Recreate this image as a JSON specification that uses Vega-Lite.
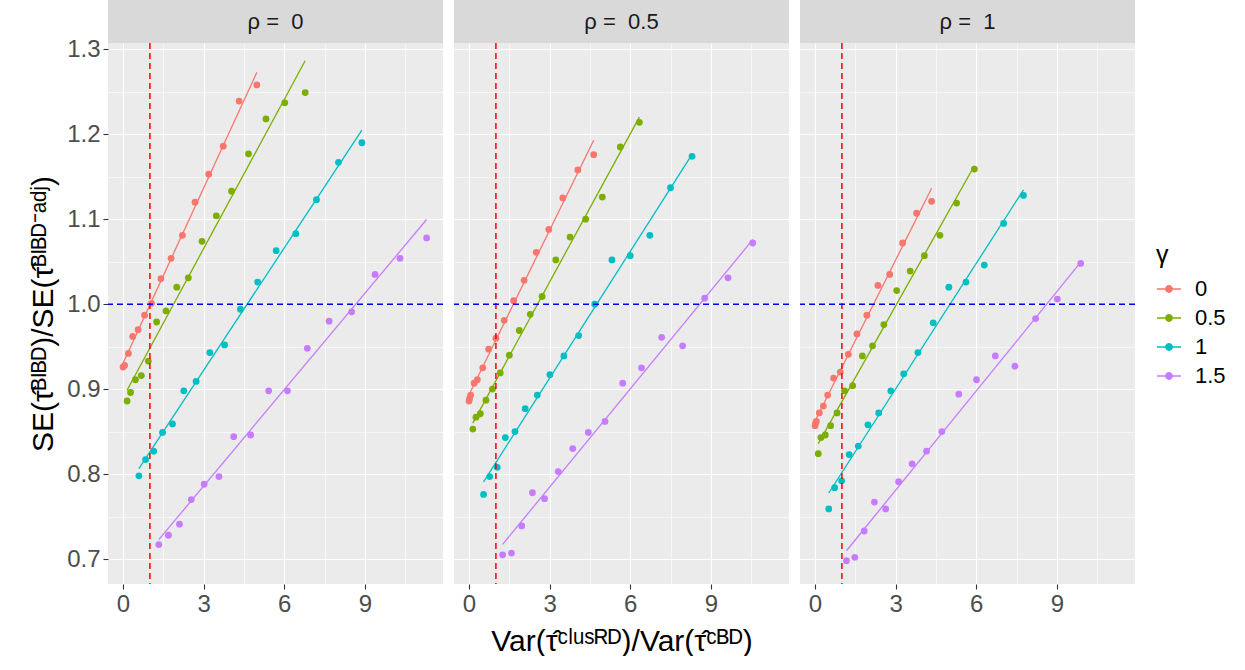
{
  "$schema": "https://vega.github.io/schema/vega-lite/v6.json",
  "padding": {"left": 28, "top": 0, "right": 0, "bottom": 0},
  "background": "white",
  "config": {
    "font": "Liberation Sans",
    "view": {"stroke": null},
    "axis": {
      "domain": false,
      "gridColor": "white",
      "tickColor": "#333333",
      "tickSize": 5,
      "tickWidth": 1.1,
      "labelColor": "#4D4D4D",
      "labelFont": "Liberation Sans",
      "labelFontSize": 24,
      "titleFont": "Liberation Sans",
      "titleFontSize": 30,
      "titleFontWeight": "normal",
      "titleColor": "black",
      "labelPadding": 3
    }
  },
  "datasets": {
    "d": [
      {"rho": 0, "gamma": "0", "ratio": 0.0, "se": 0.926},
      {"rho": 0, "gamma": "0", "ratio": 0.06, "se": 0.928},
      {"rho": 0, "gamma": "0", "ratio": 0.2, "se": 0.942},
      {"rho": 0, "gamma": "0", "ratio": 0.36, "se": 0.962},
      {"rho": 0, "gamma": "0", "ratio": 0.56, "se": 0.970},
      {"rho": 0, "gamma": "0", "ratio": 0.80, "se": 0.987},
      {"rho": 0, "gamma": "0", "ratio": 1.06, "se": 1.001},
      {"rho": 0, "gamma": "0", "ratio": 1.41, "se": 1.030},
      {"rho": 0, "gamma": "0", "ratio": 1.79, "se": 1.054},
      {"rho": 0, "gamma": "0", "ratio": 2.21, "se": 1.081},
      {"rho": 0, "gamma": "0", "ratio": 2.68, "se": 1.120},
      {"rho": 0, "gamma": "0", "ratio": 3.19, "se": 1.153},
      {"rho": 0, "gamma": "0", "ratio": 3.73, "se": 1.186},
      {"rho": 0, "gamma": "0", "ratio": 4.32, "se": 1.239},
      {"rho": 0, "gamma": "0", "ratio": 4.98, "se": 1.258},
      {"rho": 0, "gamma": "0.5", "ratio": 0.15, "se": 0.886},
      {"rho": 0, "gamma": "0.5", "ratio": 0.28, "se": 0.896},
      {"rho": 0, "gamma": "0.5", "ratio": 0.46, "se": 0.911},
      {"rho": 0, "gamma": "0.5", "ratio": 0.68, "se": 0.916},
      {"rho": 0, "gamma": "0.5", "ratio": 0.94, "se": 0.933},
      {"rho": 0, "gamma": "0.5", "ratio": 1.25, "se": 0.979},
      {"rho": 0, "gamma": "0.5", "ratio": 1.60, "se": 0.992},
      {"rho": 0, "gamma": "0.5", "ratio": 2.00, "se": 1.020},
      {"rho": 0, "gamma": "0.5", "ratio": 2.43, "se": 1.031},
      {"rho": 0, "gamma": "0.5", "ratio": 2.94, "se": 1.074},
      {"rho": 0, "gamma": "0.5", "ratio": 3.47, "se": 1.104},
      {"rho": 0, "gamma": "0.5", "ratio": 4.04, "se": 1.133},
      {"rho": 0, "gamma": "0.5", "ratio": 4.67, "se": 1.177},
      {"rho": 0, "gamma": "0.5", "ratio": 5.32, "se": 1.218},
      {"rho": 0, "gamma": "0.5", "ratio": 6.02, "se": 1.237},
      {"rho": 0, "gamma": "0.5", "ratio": 6.78, "se": 1.249},
      {"rho": 0, "gamma": "1", "ratio": 0.59, "se": 0.798},
      {"rho": 0, "gamma": "1", "ratio": 0.84, "se": 0.817},
      {"rho": 0, "gamma": "1", "ratio": 1.14, "se": 0.827},
      {"rho": 0, "gamma": "1", "ratio": 1.47, "se": 0.849},
      {"rho": 0, "gamma": "1", "ratio": 1.84, "se": 0.859},
      {"rho": 0, "gamma": "1", "ratio": 2.26, "se": 0.898},
      {"rho": 0, "gamma": "1", "ratio": 2.72, "se": 0.909},
      {"rho": 0, "gamma": "1", "ratio": 3.23, "se": 0.943},
      {"rho": 0, "gamma": "1", "ratio": 3.78, "se": 0.952},
      {"rho": 0, "gamma": "1", "ratio": 4.37, "se": 0.994},
      {"rho": 0, "gamma": "1", "ratio": 5.01, "se": 1.026},
      {"rho": 0, "gamma": "1", "ratio": 5.70, "se": 1.063},
      {"rho": 0, "gamma": "1", "ratio": 6.43, "se": 1.083},
      {"rho": 0, "gamma": "1", "ratio": 7.20, "se": 1.123},
      {"rho": 0, "gamma": "1", "ratio": 8.02, "se": 1.167},
      {"rho": 0, "gamma": "1", "ratio": 8.89, "se": 1.190},
      {"rho": 0, "gamma": "1.5", "ratio": 1.33, "se": 0.717},
      {"rho": 0, "gamma": "1.5", "ratio": 1.69, "se": 0.728},
      {"rho": 0, "gamma": "1.5", "ratio": 2.10, "se": 0.741},
      {"rho": 0, "gamma": "1.5", "ratio": 2.54, "se": 0.770},
      {"rho": 0, "gamma": "1.5", "ratio": 3.02, "se": 0.788},
      {"rho": 0, "gamma": "1.5", "ratio": 3.57, "se": 0.797},
      {"rho": 0, "gamma": "1.5", "ratio": 4.12, "se": 0.844},
      {"rho": 0, "gamma": "1.5", "ratio": 4.75, "se": 0.846},
      {"rho": 0, "gamma": "1.5", "ratio": 5.42, "se": 0.898},
      {"rho": 0, "gamma": "1.5", "ratio": 6.12, "se": 0.898},
      {"rho": 0, "gamma": "1.5", "ratio": 6.86, "se": 0.948},
      {"rho": 0, "gamma": "1.5", "ratio": 7.67, "se": 0.980},
      {"rho": 0, "gamma": "1.5", "ratio": 8.51, "se": 0.991},
      {"rho": 0, "gamma": "1.5", "ratio": 9.38, "se": 1.035},
      {"rho": 0, "gamma": "1.5", "ratio": 10.31, "se": 1.054},
      {"rho": 0, "gamma": "1.5", "ratio": 11.30, "se": 1.078},

      {"rho": 0.5, "gamma": "0", "ratio": 0.0, "se": 0.886},
      {"rho": 0.5, "gamma": "0", "ratio": 0.02, "se": 0.889},
      {"rho": 0.5, "gamma": "0", "ratio": 0.06, "se": 0.893},
      {"rho": 0.5, "gamma": "0", "ratio": 0.19, "se": 0.907},
      {"rho": 0.5, "gamma": "0", "ratio": 0.31, "se": 0.911},
      {"rho": 0.5, "gamma": "0", "ratio": 0.51, "se": 0.925},
      {"rho": 0.5, "gamma": "0", "ratio": 0.73, "se": 0.947},
      {"rho": 0.5, "gamma": "0", "ratio": 1.00, "se": 0.960},
      {"rho": 0.5, "gamma": "0", "ratio": 1.31, "se": 0.981},
      {"rho": 0.5, "gamma": "0", "ratio": 1.66, "se": 1.004},
      {"rho": 0.5, "gamma": "0", "ratio": 2.05, "se": 1.028},
      {"rho": 0.5, "gamma": "0", "ratio": 2.50, "se": 1.061},
      {"rho": 0.5, "gamma": "0", "ratio": 2.97, "se": 1.088},
      {"rho": 0.5, "gamma": "0", "ratio": 3.49, "se": 1.125},
      {"rho": 0.5, "gamma": "0", "ratio": 4.05, "se": 1.158},
      {"rho": 0.5, "gamma": "0", "ratio": 4.64, "se": 1.176},
      {"rho": 0.5, "gamma": "0.5", "ratio": 0.14, "se": 0.853},
      {"rho": 0.5, "gamma": "0.5", "ratio": 0.26, "se": 0.867},
      {"rho": 0.5, "gamma": "0.5", "ratio": 0.42, "se": 0.871},
      {"rho": 0.5, "gamma": "0.5", "ratio": 0.63, "se": 0.887},
      {"rho": 0.5, "gamma": "0.5", "ratio": 0.87, "se": 0.900},
      {"rho": 0.5, "gamma": "0.5", "ratio": 1.16, "se": 0.919},
      {"rho": 0.5, "gamma": "0.5", "ratio": 1.50, "se": 0.940},
      {"rho": 0.5, "gamma": "0.5", "ratio": 1.87, "se": 0.969},
      {"rho": 0.5, "gamma": "0.5", "ratio": 2.28, "se": 0.988},
      {"rho": 0.5, "gamma": "0.5", "ratio": 2.72, "se": 1.009},
      {"rho": 0.5, "gamma": "0.5", "ratio": 3.23, "se": 1.052},
      {"rho": 0.5, "gamma": "0.5", "ratio": 3.76, "se": 1.079},
      {"rho": 0.5, "gamma": "0.5", "ratio": 4.34, "se": 1.100},
      {"rho": 0.5, "gamma": "0.5", "ratio": 4.96, "se": 1.126},
      {"rho": 0.5, "gamma": "0.5", "ratio": 5.63, "se": 1.185},
      {"rho": 0.5, "gamma": "0.5", "ratio": 6.34, "se": 1.214},
      {"rho": 0.5, "gamma": "1", "ratio": 0.54, "se": 0.776},
      {"rho": 0.5, "gamma": "1", "ratio": 0.77, "se": 0.797},
      {"rho": 0.5, "gamma": "1", "ratio": 1.05, "se": 0.808},
      {"rho": 0.5, "gamma": "1", "ratio": 1.35, "se": 0.843},
      {"rho": 0.5, "gamma": "1", "ratio": 1.71, "se": 0.850},
      {"rho": 0.5, "gamma": "1", "ratio": 2.09, "se": 0.877},
      {"rho": 0.5, "gamma": "1", "ratio": 2.54, "se": 0.893},
      {"rho": 0.5, "gamma": "1", "ratio": 3.01, "se": 0.917},
      {"rho": 0.5, "gamma": "1", "ratio": 3.53, "se": 0.939},
      {"rho": 0.5, "gamma": "1", "ratio": 4.08, "se": 0.963},
      {"rho": 0.5, "gamma": "1", "ratio": 4.68, "se": 1.000},
      {"rho": 0.5, "gamma": "1", "ratio": 5.32, "se": 1.052},
      {"rho": 0.5, "gamma": "1", "ratio": 6.00, "se": 1.057},
      {"rho": 0.5, "gamma": "1", "ratio": 6.73, "se": 1.081},
      {"rho": 0.5, "gamma": "1", "ratio": 7.50, "se": 1.137},
      {"rho": 0.5, "gamma": "1", "ratio": 8.30, "se": 1.174},
      {"rho": 0.5, "gamma": "1.5", "ratio": 1.25, "se": 0.705},
      {"rho": 0.5, "gamma": "1.5", "ratio": 1.58, "se": 0.707},
      {"rho": 0.5, "gamma": "1.5", "ratio": 1.96, "se": 0.739},
      {"rho": 0.5, "gamma": "1.5", "ratio": 2.36, "se": 0.778},
      {"rho": 0.5, "gamma": "1.5", "ratio": 2.81, "se": 0.771},
      {"rho": 0.5, "gamma": "1.5", "ratio": 3.32, "se": 0.803},
      {"rho": 0.5, "gamma": "1.5", "ratio": 3.86, "se": 0.830},
      {"rho": 0.5, "gamma": "1.5", "ratio": 4.44, "se": 0.849},
      {"rho": 0.5, "gamma": "1.5", "ratio": 5.06, "se": 0.862},
      {"rho": 0.5, "gamma": "1.5", "ratio": 5.72, "se": 0.907},
      {"rho": 0.5, "gamma": "1.5", "ratio": 6.42, "se": 0.925},
      {"rho": 0.5, "gamma": "1.5", "ratio": 7.17, "se": 0.961},
      {"rho": 0.5, "gamma": "1.5", "ratio": 7.95, "se": 0.951},
      {"rho": 0.5, "gamma": "1.5", "ratio": 8.77, "se": 1.007},
      {"rho": 0.5, "gamma": "1.5", "ratio": 9.64, "se": 1.031},
      {"rho": 0.5, "gamma": "1.5", "ratio": 10.56, "se": 1.072},

      {"rho": 1, "gamma": "0", "ratio": 0.0, "se": 0.857},
      {"rho": 1, "gamma": "0", "ratio": 0.02, "se": 0.860},
      {"rho": 1, "gamma": "0", "ratio": 0.05, "se": 0.862},
      {"rho": 1, "gamma": "0", "ratio": 0.16, "se": 0.872},
      {"rho": 1, "gamma": "0", "ratio": 0.31, "se": 0.880},
      {"rho": 1, "gamma": "0", "ratio": 0.47, "se": 0.893},
      {"rho": 1, "gamma": "0", "ratio": 0.69, "se": 0.913},
      {"rho": 1, "gamma": "0", "ratio": 0.94, "se": 0.920},
      {"rho": 1, "gamma": "0", "ratio": 1.24, "se": 0.941},
      {"rho": 1, "gamma": "0", "ratio": 1.56, "se": 0.965},
      {"rho": 1, "gamma": "0", "ratio": 1.93, "se": 0.987},
      {"rho": 1, "gamma": "0", "ratio": 2.34, "se": 1.022},
      {"rho": 1, "gamma": "0", "ratio": 2.78, "se": 1.035},
      {"rho": 1, "gamma": "0", "ratio": 3.26, "se": 1.072},
      {"rho": 1, "gamma": "0", "ratio": 3.78, "se": 1.107},
      {"rho": 1, "gamma": "0", "ratio": 4.34, "se": 1.121},
      {"rho": 1, "gamma": "0.5", "ratio": 0.12, "se": 0.824},
      {"rho": 1, "gamma": "0.5", "ratio": 0.22, "se": 0.843},
      {"rho": 1, "gamma": "0.5", "ratio": 0.38, "se": 0.846},
      {"rho": 1, "gamma": "0.5", "ratio": 0.58, "se": 0.857},
      {"rho": 1, "gamma": "0.5", "ratio": 0.82, "se": 0.872},
      {"rho": 1, "gamma": "0.5", "ratio": 1.10, "se": 0.898},
      {"rho": 1, "gamma": "0.5", "ratio": 1.40, "se": 0.904},
      {"rho": 1, "gamma": "0.5", "ratio": 1.76, "se": 0.939},
      {"rho": 1, "gamma": "0.5", "ratio": 2.14, "se": 0.951},
      {"rho": 1, "gamma": "0.5", "ratio": 2.56, "se": 0.976},
      {"rho": 1, "gamma": "0.5", "ratio": 3.04, "se": 1.016},
      {"rho": 1, "gamma": "0.5", "ratio": 3.54, "se": 1.039},
      {"rho": 1, "gamma": "0.5", "ratio": 4.07, "se": 1.057},
      {"rho": 1, "gamma": "0.5", "ratio": 4.65, "se": 1.081},
      {"rho": 1, "gamma": "0.5", "ratio": 5.27, "se": 1.119},
      {"rho": 1, "gamma": "0.5", "ratio": 5.93, "se": 1.159},
      {"rho": 1, "gamma": "1", "ratio": 0.51, "se": 0.759},
      {"rho": 1, "gamma": "1", "ratio": 0.73, "se": 0.784},
      {"rho": 1, "gamma": "1", "ratio": 0.99, "se": 0.792},
      {"rho": 1, "gamma": "1", "ratio": 1.27, "se": 0.823},
      {"rho": 1, "gamma": "1", "ratio": 1.61, "se": 0.833},
      {"rho": 1, "gamma": "1", "ratio": 1.97, "se": 0.858},
      {"rho": 1, "gamma": "1", "ratio": 2.37, "se": 0.872},
      {"rho": 1, "gamma": "1", "ratio": 2.82, "se": 0.898},
      {"rho": 1, "gamma": "1", "ratio": 3.30, "se": 0.918},
      {"rho": 1, "gamma": "1", "ratio": 3.83, "se": 0.943},
      {"rho": 1, "gamma": "1", "ratio": 4.40, "se": 0.978},
      {"rho": 1, "gamma": "1", "ratio": 4.98, "se": 1.020},
      {"rho": 1, "gamma": "1", "ratio": 5.62, "se": 1.026},
      {"rho": 1, "gamma": "1", "ratio": 6.30, "se": 1.046},
      {"rho": 1, "gamma": "1", "ratio": 7.02, "se": 1.095},
      {"rho": 1, "gamma": "1", "ratio": 7.76, "se": 1.128},
      {"rho": 1, "gamma": "1.5", "ratio": 1.17, "se": 0.698},
      {"rho": 1, "gamma": "1.5", "ratio": 1.48, "se": 0.702},
      {"rho": 1, "gamma": "1.5", "ratio": 1.83, "se": 0.733},
      {"rho": 1, "gamma": "1.5", "ratio": 2.21, "se": 0.767},
      {"rho": 1, "gamma": "1.5", "ratio": 2.63, "se": 0.759},
      {"rho": 1, "gamma": "1.5", "ratio": 3.11, "se": 0.791},
      {"rho": 1, "gamma": "1.5", "ratio": 3.61, "se": 0.812},
      {"rho": 1, "gamma": "1.5", "ratio": 4.15, "se": 0.827},
      {"rho": 1, "gamma": "1.5", "ratio": 4.72, "se": 0.850},
      {"rho": 1, "gamma": "1.5", "ratio": 5.35, "se": 0.894},
      {"rho": 1, "gamma": "1.5", "ratio": 6.01, "se": 0.911},
      {"rho": 1, "gamma": "1.5", "ratio": 6.71, "se": 0.939},
      {"rho": 1, "gamma": "1.5", "ratio": 7.44, "se": 0.927},
      {"rho": 1, "gamma": "1.5", "ratio": 8.21, "se": 0.983},
      {"rho": 1, "gamma": "1.5", "ratio": 9.02, "se": 1.006},
      {"rho": 1, "gamma": "1.5", "ratio": 9.89, "se": 1.048}
    ]
  },
  "resolve": {"scale": {"color": "shared"}, "legend": {"color": "shared"}},
  "spacing": 9,
  "hconcat": [
    {
      "spacing": 0,
      "bounds": "flush",
      "vconcat": [
        {
          "width": 335, "height": 43,
          "view": {"fill": "#D9D9D9", "stroke": null},
          "data": {"values": [{"t": "ρ = \u00a00"}]},
          "mark": {"type": "text", "fontSize": 22, "color": "#1A1A1A", "font": "Liberation Sans"},
          "encoding": {"text": {"field": "t"}}
        },
        {
          "width": 335, "height": 541,
          "view": {"fill": "#EBEBEB", "stroke": null},
          "data": {"name": "d"},
          "transform": [{"filter": "datum.rho == 0"}],
          "layer": [
            {
              "mark": {"type": "point", "filled": true, "size": 46, "opacity": 1},
              "encoding": {
                "x": {"field": "ratio", "type": "quantitative", "scale": {"domain": [-0.56, 11.91], "nice": false, "zero": false},
                  "axis": {"values": [0, 1.5, 3, 4.5, 6, 7.5, 9, 10.5], "grid": true,
                    "gridWidth": {"condition": {"test": "datum.value % 3 == 0", "value": 1.1}, "value": 0.55},
                    "tickOpacity": {"condition": {"test": "datum.value % 3 == 0", "value": 1}, "value": 0},
                    "labelExpr": "datum.value % 3 == 0 ? datum.label : ''", "title": null}},
                "y": {"field": "se", "type": "quantitative", "scale": {"domain": [0.6706, 1.3074], "nice": false, "zero": false},
                  "axis": {"values": [0.7, 0.75, 0.8, 0.85, 0.9, 0.95, 1.0, 1.05, 1.1, 1.15, 1.2, 1.25, 1.3], "grid": true, "format": ".1f",
                    "gridWidth": {"condition": {"test": "abs(datum.value*10 - round(datum.value*10)) < 0.001", "value": 1.1}, "value": 0.55},
                    "tickOpacity": {"condition": {"test": "abs(datum.value*10 - round(datum.value*10)) < 0.001", "value": 1}, "value": 0},
                    "labelExpr": "abs(datum.value*10 - round(datum.value*10)) < 0.001 ? datum.label : ''",
                    "title": "SE(τ̂ᴮᴵᴮᴰ)/SE(τ̂ᴮᴵᴮᴰ⁻ᵃᵈʲ)", "titlePadding": 8}},
                "color": {"field": "gamma", "type": "nominal",
                  "scale": {"domain": ["0", "0.5", "1", "1.5"], "range": ["#F8766D", "#7CAE00", "#00BFC4", "#C77CFF"]},
                  "legend": {"title": "γ", "orient": "none", "legendX": 1048, "legendY": 243,
                    "titleFontSize": 25, "titleFontWeight": "normal", "titleColor": "black", "titlePadding": 8,
                    "labelFontSize": 22, "labelColor": "black", "labelOffset": 13, "rowPadding": 5,
                    "symbolType": "M-1,0L1,0M-0.27,0A0.27,0.27,0,1,0,0.27,0A0.27,0.27,0,1,0,-0.27,0",
                    "symbolSize": 580, "symbolStrokeWidth": 1.3,
                    "encode": {"symbols": {"update": {
                      "stroke": {"scale": "color", "field": "value"},
                      "fill": {"scale": "color", "field": "value"}}}}}}
              }
            },
            {
              "transform": [{"regression": "se", "on": "ratio", "groupby": ["gamma"]}],
              "mark": {"type": "line", "strokeWidth": 1.3},
              "encoding": {
                "x": {"field": "ratio", "type": "quantitative"},
                "y": {"field": "se", "type": "quantitative"},
                "color": {"field": "gamma", "type": "nominal"}
              }
            },
            {
              "data": {"values": [{}]},
              "mark": {"type": "rule", "color": "#FF0000", "strokeDash": [6, 4], "strokeWidth": 1.5},
              "encoding": {"x": {"datum": 1}}
            },
            {
              "data": {"values": [{}]},
              "mark": {"type": "rule", "color": "#0000FF", "strokeDash": [6, 4], "strokeWidth": 1.5},
              "encoding": {"y": {"datum": 1}}
            }
          ]
        }
      ]
    },
    {
      "spacing": 0,
      "bounds": "flush",
      "vconcat": [
        {
          "width": 335, "height": 43,
          "view": {"fill": "#D9D9D9", "stroke": null},
          "data": {"values": [{"t": "ρ = \u00a00.5"}]},
          "mark": {"type": "text", "fontSize": 22, "color": "#1A1A1A", "font": "Liberation Sans"},
          "encoding": {"text": {"field": "t"}}
        },
        {
          "width": 335, "height": 541,
          "view": {"fill": "#EBEBEB", "stroke": null},
          "data": {"name": "d"},
          "transform": [{"filter": "datum.rho == 0.5"}],
          "layer": [
            {
              "mark": {"type": "point", "filled": true, "size": 46, "opacity": 1},
              "encoding": {
                "x": {"field": "ratio", "type": "quantitative", "scale": {"domain": [-0.56, 11.91], "nice": false, "zero": false},
                  "axis": {"values": [0, 1.5, 3, 4.5, 6, 7.5, 9, 10.5], "grid": true,
                    "gridWidth": {"condition": {"test": "datum.value % 3 == 0", "value": 1.1}, "value": 0.55},
                    "tickOpacity": {"condition": {"test": "datum.value % 3 == 0", "value": 1}, "value": 0},
                    "labelExpr": "datum.value % 3 == 0 ? datum.label : ''",
                    "title": "Var(τ̂ᶜˡᵘˢᴿᴰ)/Var(τ̂ᶜᴮᴰ)", "titlePadding": 10}},
                "y": {"field": "se", "type": "quantitative", "scale": {"domain": [0.6706, 1.3074], "nice": false, "zero": false},
                  "axis": {"values": [0.7, 0.75, 0.8, 0.85, 0.9, 0.95, 1.0, 1.05, 1.1, 1.15, 1.2, 1.25, 1.3], "grid": true,
                    "gridWidth": {"condition": {"test": "abs(datum.value*10 - round(datum.value*10)) < 0.001", "value": 1.1}, "value": 0.55},
                    "labels": false, "ticks": false, "title": null}},
                "color": {"field": "gamma", "type": "nominal"}
              }
            },
            {
              "transform": [{"regression": "se", "on": "ratio", "groupby": ["gamma"]}],
              "mark": {"type": "line", "strokeWidth": 1.3},
              "encoding": {
                "x": {"field": "ratio", "type": "quantitative"},
                "y": {"field": "se", "type": "quantitative"},
                "color": {"field": "gamma", "type": "nominal"}
              }
            },
            {
              "data": {"values": [{}]},
              "mark": {"type": "rule", "color": "#FF0000", "strokeDash": [6, 4], "strokeWidth": 1.5},
              "encoding": {"x": {"datum": 1}}
            },
            {
              "data": {"values": [{}]},
              "mark": {"type": "rule", "color": "#0000FF", "strokeDash": [6, 4], "strokeWidth": 1.5},
              "encoding": {"y": {"datum": 1}}
            }
          ]
        }
      ]
    },
    {
      "spacing": 0,
      "bounds": "flush",
      "vconcat": [
        {
          "width": 335, "height": 43,
          "view": {"fill": "#D9D9D9", "stroke": null},
          "data": {"values": [{"t": "ρ = \u00a01"}]},
          "mark": {"type": "text", "fontSize": 22, "color": "#1A1A1A", "font": "Liberation Sans"},
          "encoding": {"text": {"field": "t"}}
        },
        {
          "width": 335, "height": 541,
          "view": {"fill": "#EBEBEB", "stroke": null},
          "data": {"name": "d"},
          "transform": [{"filter": "datum.rho == 1"}],
          "layer": [
            {
              "mark": {"type": "point", "filled": true, "size": 46, "opacity": 1},
              "encoding": {
                "x": {"field": "ratio", "type": "quantitative", "scale": {"domain": [-0.56, 11.91], "nice": false, "zero": false},
                  "axis": {"values": [0, 1.5, 3, 4.5, 6, 7.5, 9, 10.5], "grid": true,
                    "gridWidth": {"condition": {"test": "datum.value % 3 == 0", "value": 1.1}, "value": 0.55},
                    "tickOpacity": {"condition": {"test": "datum.value % 3 == 0", "value": 1}, "value": 0},
                    "labelExpr": "datum.value % 3 == 0 ? datum.label : ''", "title": null}},
                "y": {"field": "se", "type": "quantitative", "scale": {"domain": [0.6706, 1.3074], "nice": false, "zero": false},
                  "axis": {"values": [0.7, 0.75, 0.8, 0.85, 0.9, 0.95, 1.0, 1.05, 1.1, 1.15, 1.2, 1.25, 1.3], "grid": true,
                    "gridWidth": {"condition": {"test": "abs(datum.value*10 - round(datum.value*10)) < 0.001", "value": 1.1}, "value": 0.55},
                    "labels": false, "ticks": false, "title": null}},
                "color": {"field": "gamma", "type": "nominal"}
              }
            },
            {
              "transform": [{"regression": "se", "on": "ratio", "groupby": ["gamma"]}],
              "mark": {"type": "line", "strokeWidth": 1.3},
              "encoding": {
                "x": {"field": "ratio", "type": "quantitative"},
                "y": {"field": "se", "type": "quantitative"},
                "color": {"field": "gamma", "type": "nominal"}
              }
            },
            {
              "data": {"values": [{}]},
              "mark": {"type": "rule", "color": "#FF0000", "strokeDash": [6, 4], "strokeWidth": 1.5},
              "encoding": {"x": {"datum": 1}}
            },
            {
              "data": {"values": [{}]},
              "mark": {"type": "rule", "color": "#0000FF", "strokeDash": [6, 4], "strokeWidth": 1.5},
              "encoding": {"y": {"datum": 1}}
            }
          ]
        }
      ]
    }
  ]
}
